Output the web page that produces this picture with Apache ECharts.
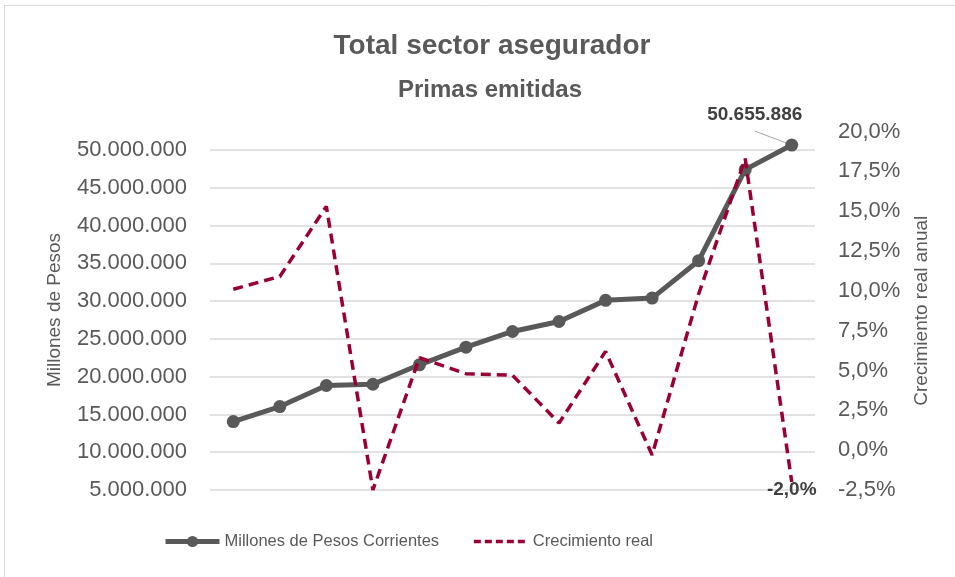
<!DOCTYPE html>
<html>
<head>
<meta charset="utf-8">
<script src="https://cdn.jsdelivr.net/npm/echarts@6/dist/echarts.min.js"></script>
<style>
  html, body { margin: 0; padding: 0; background: #fff; }
  #chart { width: 955px; height: 577px; }
</style>
</head>
<body>
<div id="chart"></div>
<script>
// periods (no labels shown on the x axis in the original)
const categories = ["1", "2", "3", "4", "5", "6", "7", "8", "9", "10", "11", "12", "13"];

// Millones de Pesos Corrientes (left axis)
const primas = [14050000, 16040000, 18830000, 19000000, 21570000, 23900000, 25980000,
  27300000, 30100000, 30400000, 35350000, 47400000, 50655886];

// Crecimiento real anual, % (right axis)
const crecimiento = [10.1, 10.9, 15.3, -2.5, 5.8, 4.8, 4.7, 1.7, 6.2, -0.3, 9.8, 18.3, -2.0];

const leftTicks = { min: 5000000, max: 50000000, interval: 5000000 };
const rightTicks = { min: -2.5, max: 20, interval: 2.5 };

const FONT = "Liberation Sans";
const GREY = "#595959";
const RED = "#990033";

function miles(v) {
  return String(Math.round(v)).replace(/\B(?=(\d{3})+(?!\d))/g, ".");
}
function pct(v) {
  return v.toFixed(1).replace(".", ",") + "%";
}

function renderChart() {
  const lastIdx = primas.length - 1;

  const options = {
    animation: false,
    textStyle: { fontFamily: FONT },
    title: [
      {
        text: "Total sector asegurador",
        left: 487, top: 27, textAlign: "center",
        textStyle: { fontSize: 28, fontWeight: "bold", color: GREY, fontFamily: FONT }
      },
      {
        text: "Primas emitidas",
        left: 485, top: 73, textAlign: "center",
        textStyle: { fontSize: 24, fontWeight: "bold", color: GREY, fontFamily: FONT }
      }
    ],
    graphic: [{
      type: "rect",
      shape: { x: 4.5, y: 5.5, width: 1000, height: 1000 },
      style: { fill: "none", stroke: "#d9d9d9", lineWidth: 1 },
      silent: true
    }],
    legend: {
      left: 163, top: 533, padding: 0,
      itemWidth: 54, itemHeight: 14, itemGap: 33,
      textStyle: { fontSize: 16.5, color: GREY, fontFamily: FONT },
      data: [
        { name: "Millones de Pesos Corrientes", lineStyle: { width: 5 } },
        { name: "Crecimiento real", itemStyle: { opacity: 0 }, lineStyle: { width: 3.5, type: [7, 4] } }
      ]
    },
    grid: [
      { left: 210, right: 140, top: 150, bottom: 87 },
      { left: 210, right: 140, top: 131.5, bottom: 87 }
    ],
    xAxis: [
      { type: "category", gridIndex: 0, data: categories, boundaryGap: true,
        axisLine: { show: false }, axisTick: { show: false }, axisLabel: { show: false } },
      { type: "category", gridIndex: 1, data: categories, boundaryGap: true,
        axisLine: { show: false }, axisTick: { show: false }, axisLabel: { show: false } }
    ],
    yAxis: [
      {
        type: "value", gridIndex: 0, position: "left",
        min: leftTicks.min, max: leftTicks.max, interval: leftTicks.interval,
        name: "Millones de Pesos", nameLocation: "middle", nameRotate: 90, nameGap: 146,
        nameTextStyle: { fontSize: 19, color: GREY, fontFamily: FONT, padding: [0, 0, 0, 20] },
        axisLine: { show: false }, axisTick: { show: false },
        axisLabel: { margin: 23, fontSize: 22, color: GREY, fontFamily: FONT, formatter: miles },
        splitLine: { lineStyle: { color: "#d9d9d9", width: 1.5 } }
      },
      {
        type: "value", gridIndex: 1, position: "right",
        min: rightTicks.min, max: rightTicks.max, interval: rightTicks.interval,
        name: "Crecimiento real anual", nameLocation: "middle", nameRotate: 90, nameGap: 97,
        nameTextStyle: { fontSize: 19, color: GREY, fontFamily: FONT },
        axisLine: { show: false }, axisTick: { show: false },
        axisLabel: { margin: 23, fontSize: 22, color: GREY, fontFamily: FONT, formatter: pct },
        splitLine: { show: false }
      }
    ],
    series: [
      {
        name: "Millones de Pesos Corrientes",
        type: "line",
        xAxisIndex: 0, yAxisIndex: 0,
        clip: false,
        data: primas.map((v, i) => i === lastIdx ? {
          value: v,
          label: {
            show: true, position: "top", distance: 4,
            formatter: (p) => miles(p.value),
            fontSize: 19, fontWeight: "bold", color: "#404040", fontFamily: FONT
          }
        } : v),
        labelLayout: (params) => params.dataIndex === lastIdx ? { dx: -37, dy: -10 } : {},
        symbol: "circle", symbolSize: 13,
        lineStyle: { color: GREY, width: 5 },
        itemStyle: { color: GREY },
        z: 2
      },
      {
        name: "Crecimiento real",
        type: "line",
        xAxisIndex: 1, yAxisIndex: 1,
        data: crecimiento,
        symbol: "none",
        lineStyle: { color: RED, width: 3.5, type: [10, 6] },
        itemStyle: { color: RED },
        markPoint: {
          symbol: "circle", symbolSize: 0,
          data: [{
            coord: [categories[lastIdx], crecimiento[lastIdx]],
            value: crecimiento[lastIdx]
          }],
          label: {
            show: true, position: "bottom", distance: -2,
            formatter: (p) => pct(p.value),
            fontSize: 19, fontWeight: "bold", color: "#404040", fontFamily: FONT
          }
        },
        z: 3
      }
    ]
  };

  const chart = echarts.init(document.querySelector("#chart"));
  chart.setOption(options);

  // leader line from the value label down to the last point
  const pt = chart.convertToPixel({ xAxisIndex: 0, yAxisIndex: 0 }, [categories[lastIdx], primas[lastIdx]]);
  chart.setOption({
    graphic: [
      options.graphic[0],
      {
        type: "line", z: 1, silent: true,
        shape: { x1: pt[0] - 37, y1: pt[1] - 14, x2: pt[0], y2: pt[1] },
        style: { stroke: "#a6a6a6", lineWidth: 1 }
      }
    ]
  });
}

document.addEventListener("DOMContentLoaded", renderChart);
</script>
</body>
</html>
